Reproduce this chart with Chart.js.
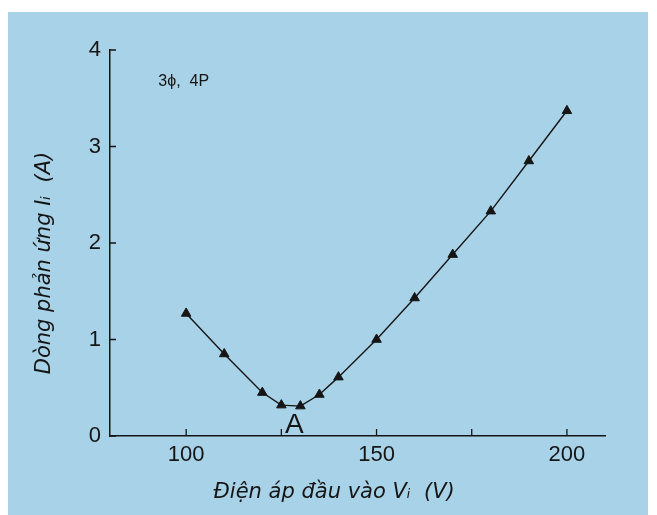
<!DOCTYPE html>
<html>
<head>
<meta charset="utf-8">
<script src="https://cdn.jsdelivr.net/npm/chart.js@4/dist/chart.umd.min.js"></script>
<style>
  html, body { margin: 0; padding: 0; background: #ffffff; }
  #panel { position: absolute; left: 8px; top: 12px; width: 640px; height: 503px; background: #a7d2e7; }
  #wrap { position: absolute; left: 0; top: 0; width: 657px; height: 515px; }
</style>
</head>
<body>
<div id="panel"></div>
<div id="wrap"><canvas id="ivChart"></canvas></div>
<script>
// dien ap dau vao (V) va dong phan ung (A), doc tu hinh
const voltages = [100, 110, 120, 125, 130, 135, 140, 150, 160, 170, 180, 190, 200];
const currents = [1.27, 0.85, 0.45, 0.32, 0.31, 0.43, 0.61, 1.0, 1.43, 1.88, 2.33, 2.85, 3.37];

const xTicks = [100, 125, 150, 175, 200];
const xLabels = [100, 150, 200];
const yTicks = [0, 1, 2, 3, 4];

const ink = "#151515";
const fontFamily = "'Liberation Sans', Arial, sans-serif";
const titleFamily = "'DejaVu Sans', sans-serif";

// vach chia huong vao trong va chu thich "3ϕ, 4P", "A"
const extras = {
    id: "extras",
    afterDraw(chart) {
        const ctx = chart.ctx;
        const x = chart.scales.x;
        const y = chart.scales.y;
        ctx.save();
        ctx.strokeStyle = ink;
        ctx.lineWidth = 1.3;
        ctx.beginPath();
        xTicks.forEach(v => {
            const px = x.getPixelForValue(v);
            ctx.moveTo(px, y.bottom);
            ctx.lineTo(px, y.bottom - 7);
        });
        yTicks.forEach(v => {
            const py = y.getPixelForValue(v);
            ctx.moveTo(x.left, py);
            ctx.lineTo(x.left + 6, py);
        });
        ctx.stroke();

        ctx.fillStyle = ink;
        ctx.textBaseline = "middle";
        ctx.textAlign = "left";
        ctx.font = "16px " + fontFamily;
        ctx.fillText("3ϕ,  4P", x.getPixelForValue(92.7), y.getPixelForValue(3.67));
        ctx.textAlign = "center";
        ctx.font = "28px " + fontFamily;
        ctx.fillText("A", x.getPixelForValue(128.4), y.getPixelForValue(0.11));
        ctx.restore();
    }
};

new Chart(document.getElementById("ivChart"), {
    type: "line",
    data: {
        labels: voltages,
        datasets: [{
            data: voltages.map((v, i) => ({ x: v, y: currents[i] })),
            borderColor: ink,
            borderWidth: 1.4,
            tension: 0,
            pointStyle: "triangle",
            pointRadius: 5.5,
            pointBackgroundColor: ink,
            pointBorderColor: ink,
            pointBorderWidth: 1,
            fill: false
        }]
    },
    options: {
        responsive: true,
        maintainAspectRatio: false,
        animation: false,
        events: [],
        layout: { padding: { top: 50, right: 52, left: 0, bottom: 0 } },
        plugins: {
            legend: { display: false },
            tooltip: { enabled: false }
        },
        scales: {
            x: {
                type: "linear",
                min: 80,
                max: 210,
                afterFit: s => { s.height = 79; },
                afterBuildTicks: s => { s.ticks = xTicks.map(v => ({ value: v })); },
                grid: { display: false, drawTicks: false },
                border: { display: true, color: ink, width: 1.5 },
                ticks: {
                    padding: 6,
                    color: ink,
                    font: { family: fontFamily, size: 22 },
                    callback: v => xLabels.includes(v) ? String(v) : ""
                },
                title: {
                    display: true,
                    // khoang trang cuoi de dich tieu de sang trai nhu hinh goc
                    text: "Điện áp đầu vào Vᵢ  (V)" + "       ",
                    color: ink,
                    font: { family: titleFamily, size: 21, style: "italic" },
                    padding: { top: 0, bottom: 10 }
                }
            },
            y: {
                min: 0,
                max: 4,
                afterFit: s => { s.width = 110; },
                afterBuildTicks: s => { s.ticks = yTicks.map(v => ({ value: v })); },
                grid: { display: false, drawTicks: false },
                border: { display: true, color: ink, width: 1.5 },
                ticks: {
                    padding: 9,
                    color: ink,
                    font: { family: fontFamily, size: 22 }
                },
                title: {
                    display: true,
                    text: "Dòng phản ứng Iᵢ  (A)" + "      ",
                    color: ink,
                    font: { family: titleFamily, size: 21, style: "italic" },
                    padding: { top: 32, bottom: 0 }
                }
            }
        }
    },
    plugins: [extras]
});
</script>
</body>
</html>
